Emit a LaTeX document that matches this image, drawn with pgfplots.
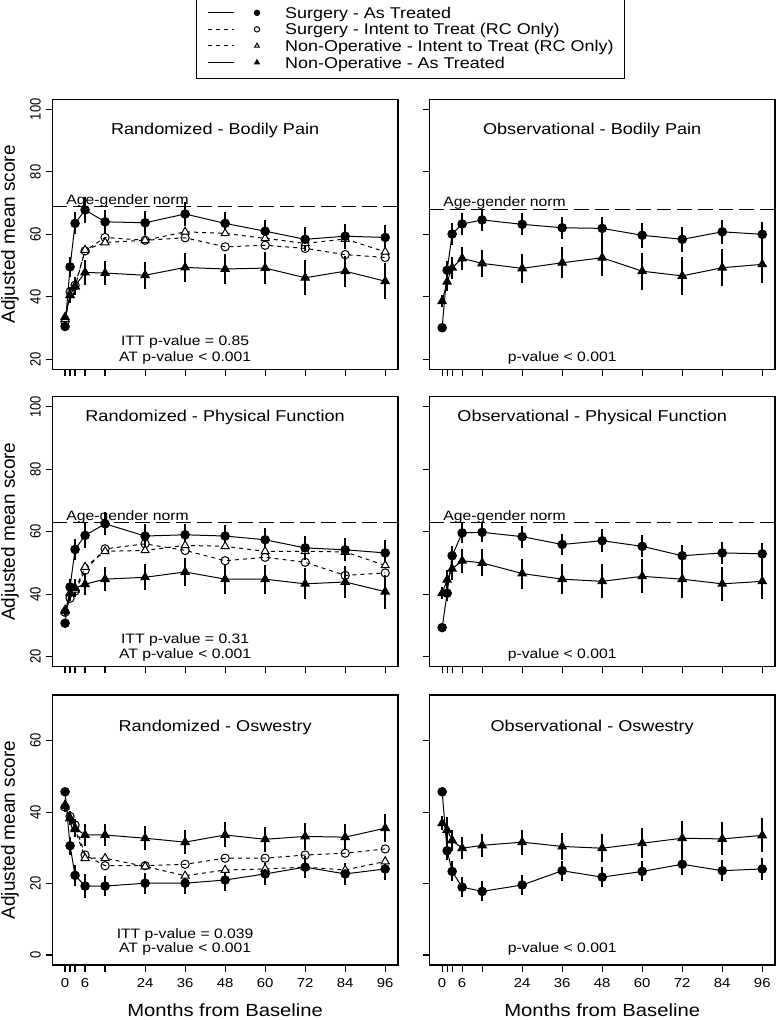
\documentclass[border=0pt]{standalone}
\usepackage{fontspec}
\setmainfont{Liberation Sans}
\usepackage{graphicx}
\usepackage{pgfplots}
\usepackage{pgfplotstable}
\pgfplotsset{compat=1.18}

% Randomized - Bodily Pain
\pgfplotstableread{
t    sat  sate nat  nate sitt nitt
0    30.5 1.0  33.5 1.0  32.0 32.8
1.5  49.6 3.2  40.5 2.5  41.6 40.5
3    63.5 3.5  43.5 3.0  43.7 43.2
6    67.8 4.2  47.8 4.0  54.7 55.0
12   64.0 3.9  47.6 3.8  59.0 57.4
24   63.7 3.8  46.9 4.3  58.1 58.1
36   66.5 3.7  49.4 4.5  58.9 60.8
48   63.5 3.6  48.9 4.8  56.0 60.3
60   61.0 3.5  49.2 5.0  56.5 58.7
72   58.4 3.8  46.1 5.6  55.5 57.1
84   59.4 4.0  48.2 5.0  53.5 58.5
96   59.0 4.0  45.0 5.7  52.6 54.4
}\rbp
% Observational - Bodily Pain
\pgfplotstableread{
t    sat  sate nat  nate
0    30.1 1.0  38.6 2.0
1.5  48.5 3.0  44.8 3.0
3    60.1 3.5  49.3 3.5
6    63.3 3.5  52.3 3.7
12   64.6 3.5  50.7 4.2
24   63.2 3.5  49.1 4.6
36   62.1 3.5  50.9 4.9
48   61.9 3.8  52.5 5.9
60   59.7 4.0  48.2 5.9
72   58.4 4.0  46.7 6.1
84   60.8 3.8  49.3 5.9
96   60.0 3.8  50.4 6.0
}\obp
% Randomized - Physical Function
\pgfplotstableread{
t    sat  sate nat  nate sitt nitt
0    30.7 1.0  34.5 1.5  34.2 35.0
1.5  42.3 2.5  40.3 2.5  38.7 40.3
3    54.3 3.5  42.0 3.0  41.0 41.4
6    58.8 4.0  43.2 3.5  47.6 48.7
12   62.5 3.7  44.8 3.8  54.5 53.7
24   58.6 3.8  45.4 4.2  56.1 54.0
36   59.0 3.6  47.1 4.4  54.0 55.6
48   58.6 3.6  44.8 4.6  50.7 55.3
60   57.4 3.7  44.8 4.6  51.8 53.7
72   54.8 3.9  43.3 5.0  50.2 53.7
84   54.2 3.7  43.9 5.0  46.0 53.5
96   53.2 4.0  40.8 5.4  46.8 49.2
}\rpf
% Observational - Physical Function
\pgfplotstableread{
t    sat  sate nat  nate
0    29.3 1.0  40.3 2.0
1.5  40.3 2.5  44.6 3.0
3    52.3 3.0  48.1 3.5
6    59.6 3.2  50.7 3.8
12   59.8 3.2  50.0 4.3
24   58.4 3.5  46.6 4.8
36   55.9 3.4  44.8 4.8
48   57.1 3.6  44.1 5.4
60   55.3 3.5  45.7 5.4
72   52.3 3.5  44.8 5.9
84   53.2 3.6  43.3 5.5
96   52.9 3.5  44.1 5.7
}\opf
% Randomized - Oswestry
\pgfplotstableread{
t    sat  sate nat  nate sitt nitt
0    45.7 1.0  41.6 1.5  41.4 42.1
1.5  30.6 2.5  38.3 2.0  38.8 38.3
3    22.3 3.0  35.5 2.5  36.4 35.2
6    19.3 3.3  33.6 3.0  28.0 27.1
12   19.3 2.8  33.6 3.2  25.0 27.1
24   20.1 2.9  32.7 3.3  25.0 24.8
36   20.1 3.0  31.6 3.3  25.4 22.2
48   21.0 3.0  33.6 3.5  27.1 23.8
60   22.7 3.0  32.4 3.5  27.1 24.1
72   24.6 3.0  33.2 3.7  28.0 24.6
84   22.7 3.0  33.0 3.6  28.5 23.8
96   24.1 3.0  35.5 3.9  29.7 26.2
}\rosw
% Observational - Oswestry
\pgfplotstableread{
t    sat  sate nat  nate
0    45.7 1.0  36.9 2.0
1.5  29.2 2.5  35.0 3.5
3    23.4 2.8  32.1 3.0
6    19.0 2.8  29.9 3.0
12   17.8 2.8  30.7 3.2
24   19.6 2.8  31.6 3.5
36   23.6 2.8  30.4 3.7
48   21.8 2.8  29.9 4.0
60   23.4 2.8  31.3 4.2
72   25.4 3.0  32.7 4.7
84   23.6 3.0  32.5 4.6
96   24.1 3.0  33.5 4.8
}\oosw

% the reference is stretched sideways, so text is widened the same way
\newcommand\sx[1]{\scalebox{1.15}[1]{#1}}
\newcommand\sy[1]{\scalebox{1}[1.15]{#1}}
\newcommand\ttl{\fontsize{11.8}{13}\selectfont}
\newcommand\note{\fontsize{10.25}{12}\selectfont}

\pgfplotsset{
  panel/.style={
    scale only axis, width=259.3pt, height=202.5pt, anchor=south west,
    xmin=-3.84, xmax=99.84,
    axis line style={line width=0.9pt},
    tick align=outside, tick pos=left,
    major tick length=5pt,
    every tick/.append style={black, line width=0.9pt},
    xtick={0,1.5,3,6,12,24,36,48,60,72,84,96},
    xticklabels={},
    yticklabels={},
  },
  bp/.style={ymin=16.8, ymax=103.2, ytick={20,40,60,80,100}},
  osw/.style={ymin=-2.8, ymax=72.8, ytick={0,20,40,60}},
  leftcol/.style={
    ylabel={Adjusted mean score},
    ylabel style={at={(axis description cs:-0.1224,0.5)}, anchor=center,
      font=\fontsize{14.25}{16}\selectfont},
    yticklabel style={font=\fontsize{9.75}{11}\selectfont, rotate=90, anchor=south},
  },
  bottom/.style={
    xticklabels={\sx{0},,,\sx{6},,\sx{24},\sx{36},\sx{48},\sx{60},\sx{72},\sx{84},\sx{96}},
    xticklabel style={font=\fontsize{9.75}{11}\selectfont, yshift=-1.5pt},
    xlabel={\sx{Months from Baseline}},
    xlabel style={at={(axis description cs:0.5,0)}, anchor=base, yshift=-38.25pt,
      font=\fontsize{13.2}{15}\selectfont},
  },
  sitt/.style={black, line width=0.75pt, dash pattern=on 3pt off 3pt, mark=o, mark size=3.1pt,
    mark options={solid, fill=white, line width=0.75pt}},
  nitt/.style={black, line width=0.75pt, dash pattern=on 3pt off 3pt, mark=triangle*, mark size=3.5pt,
    mark options={solid, fill=white, draw=black, line width=0.75pt}},
  sat/.style={black, solid, line width=0.75pt, mark=*, mark size=3.2pt,
    error bars/.cd, y dir=both, y explicit, error mark=none, error bar style={line width=1.8pt, solid}},
  nat/.style={black, solid, line width=0.75pt, mark=triangle*, mark size=3.6pt,
    error bars/.cd, y dir=both, y explicit, error mark=none, error bar style={line width=1.8pt, solid}},
  norm/.style={black, line width=0.75pt, dash pattern=on 11pt off 4.5pt, forget plot},
}

\begin{document}
\begin{tikzpicture}
\useasboundingbox (0,0) rectangle (582pt,765pt);

% legend
\begin{axis}[hide axis, scale only axis, width=10pt, height=10pt,
  anchor=north west, at={(147pt,767.9pt)},
  xmin=0, xmax=1, ymin=0, ymax=1,
  legend cell align=left,
  legend style={at={(0,1)}, anchor=north west, draw=black, line width=0.75pt, fill=white,
    inner xsep=8.25pt, inner ysep=6.7pt, row sep=1.5pt,
    font=\fontsize{11.7}{13}\selectfont,
    nodes={inner sep=0pt, text height=9.65pt, text depth=1.25pt}},
  legend image code/.code={
    \draw[#1, mark=none] (0pt,0pt) -- (19.5pt,0pt);
    \draw[#1, solid, mark size=2pt] plot[only marks] coordinates {(36.75pt,0pt)};
    \path (57.5pt,0pt);
  }]
\addlegendimage{black, solid, line width=0.75pt, mark=*}
\addlegendentry{\sx{Surgery - As Treated}}
\addlegendimage{black, line width=0.75pt, dash pattern=on 3pt off 3pt, mark=o, mark options={solid, fill=white}}
\addlegendentry{\sx{Surgery - Intent to Treat (RC Only)}}
\addlegendimage{black, line width=0.75pt, dash pattern=on 3pt off 3pt, mark=triangle*, mark options={solid, fill=white, draw=black}}
\addlegendentry{\sx{Non-Operative - Intent to Treat (RC Only)}}
\addlegendimage{black, solid, line width=0.75pt, mark=triangle*}
\addlegendentry{\sx{Non-Operative - As Treated}}
\end{axis}

% row 1
\begin{axis}[panel, bp, leftcol, yticklabels={\sy{20},\sy{40},\sy{60},\sy{80},\sy{100}}, at={(39.2pt,488pt)}]
\addplot[norm] coordinates {(-3.84,68.8) (99.84,68.8)};
\addplot[sitt] table[x=t, y=sitt] {\rbp};
\addplot[nitt] table[x=t, y=nitt] {\rbp};
\addplot[nat] table[x=t, y=nat, y error=nate] {\rbp};
\addplot[sat] table[x=t, y=sat, y error=sate] {\rbp};
\node[anchor=base west, inner sep=0pt, font=\note] at (axis cs:0.3,69.6) {\sx{Age-gender norm}};
\node[anchor=base, font=\ttl] at (axis cs:45,92.1) {\sx{Randomized - Bodily Pain}};
\node[anchor=base, font=\note] at (axis cs:36,24.3) {\sx{ITT p-value = 0.85}};
\node[anchor=base, font=\note] at (axis cs:36,19.4) {\sx{AT p-value < 0.001}};
\end{axis}

\begin{axis}[panel, bp, at={(322pt,488pt)}]
\addplot[norm] coordinates {(-3.84,68.1) (99.84,68.1)};
\addplot[nat] table[x=t, y=nat, y error=nate] {\obp};
\addplot[sat] table[x=t, y=sat, y error=sate] {\obp};
\node[anchor=base west, inner sep=0pt, font=\note] at (axis cs:0.3,68.9) {\sx{Age-gender norm}};
\node[anchor=base, font=\ttl] at (axis cs:45,92.1) {\sx{Observational - Bodily Pain}};
\node[anchor=base, font=\note] at (axis cs:36,19.3) {\sx{p-value < 0.001}};
\end{axis}

% row 2
\begin{axis}[panel, bp, leftcol, yticklabels={\sy{20},\sy{40},\sy{60},\sy{80},\sy{100}}, at={(39.2pt,265pt)}]
\addplot[norm] coordinates {(-3.84,63.0) (99.84,63.0)};
\addplot[sitt] table[x=t, y=sitt] {\rpf};
\addplot[nitt] table[x=t, y=nitt] {\rpf};
\addplot[nat] table[x=t, y=nat, y error=nate] {\rpf};
\addplot[sat] table[x=t, y=sat, y error=sate] {\rpf};
\node[anchor=base west, inner sep=0pt, font=\note] at (axis cs:0.3,63.7) {\sx{Age-gender norm}};
\node[anchor=base, font=\ttl] at (axis cs:45,95.2) {\sx{Randomized - Physical Function}};
\node[anchor=base, font=\note] at (axis cs:36,24.3) {\sx{ITT p-value = 0.31}};
\node[anchor=base, font=\note] at (axis cs:36,19.4) {\sx{AT p-value < 0.001}};
\end{axis}

\begin{axis}[panel, bp, at={(322pt,265pt)}]
\addplot[norm] coordinates {(-3.84,63.0) (99.84,63.0)};
\addplot[nat] table[x=t, y=nat, y error=nate] {\opf};
\addplot[sat] table[x=t, y=sat, y error=sate] {\opf};
\node[anchor=base west, inner sep=0pt, font=\note] at (axis cs:0.3,63.7) {\sx{Age-gender norm}};
\node[anchor=base, font=\ttl] at (axis cs:45,95.2) {\sx{Observational - Physical Function}};
\node[anchor=base, font=\note] at (axis cs:36,19.3) {\sx{p-value < 0.001}};
\end{axis}

% row 3
\begin{axis}[panel, osw, leftcol, bottom, yticklabels={\sy{0},\sy{20},\sy{40},\sy{60}}, at={(39.2pt,41.25pt)}]
\addplot[sitt] table[x=t, y=sitt] {\rosw};
\addplot[nitt] table[x=t, y=nitt] {\rosw};
\addplot[nat] table[x=t, y=nat, y error=nate] {\rosw};
\addplot[sat] table[x=t, y=sat, y error=sate] {\rosw};
\node[anchor=base, font=\ttl] at (axis cs:45,62.6) {\sx{Randomized - Oswestry}};
\node[anchor=base, font=\note] at (axis cs:36,4.7) {\sx{ITT p-value = 0.039}};
\node[anchor=base, font=\note] at (axis cs:36,0.65) {\sx{AT p-value < 0.001}};
\end{axis}

\begin{axis}[panel, osw, bottom, at={(322pt,41.25pt)}]
\addplot[nat] table[x=t, y=nat, y error=nate] {\oosw};
\addplot[sat] table[x=t, y=sat, y error=sate] {\oosw};
\node[anchor=base, font=\ttl] at (axis cs:45,62.6) {\sx{Observational - Oswestry}};
\node[anchor=base, font=\note] at (axis cs:36,0.65) {\sx{p-value < 0.001}};
\end{axis}
\end{tikzpicture}
\end{document}
